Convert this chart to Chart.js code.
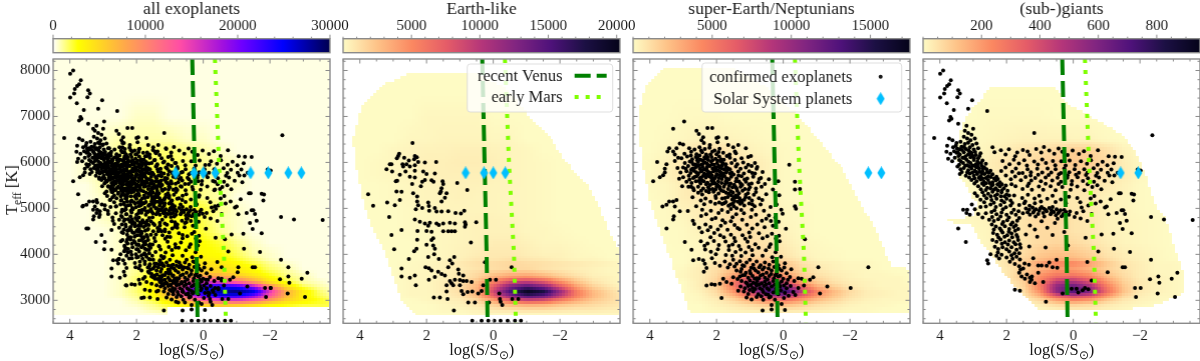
<!DOCTYPE html>
<html>
<head>
<meta charset="utf-8">
<title>Exoplanet population by stellar flux and temperature</title>
<script src="https://cdn.jsdelivr.net/npm/chart.js@4"></script>
<style>
    html, body { margin: 0; padding: 0; background: #fff; }
    #page { position: relative; width: 1200px; height: 361px; overflow: hidden; font-family: "Liberation Serif", serif; color: #1a1a1a; filter: blur(0.35px); }
    canvas { position: absolute; }
    .axisLabel { position: absolute; font-size: 16.5px; white-space: nowrap; line-height: 18px; }
    .axisLabel sub { font-size: 70%; line-height: 0; }
</style>
</head>
<body>
<div id="page"></div>
<script>
// axes
const xTicks = [4, 2, 0, -2];
const yTicks = [3000, 4000, 5000, 6000, 7000, 8000];
const xRange = [-3.8, 4.5];
const yRange = [2500, 8250];

// climate limits, logS against Teff
const limitTeff = [8250, 6000, 4000, 2500];
const venusLogS = [0.33, 0.26, 0.20, 0.17];
const marsLogS = [-0.35, -0.47, -0.62, -0.68];

// solar system, logS
const planetTeff = 5772;
const innerPlanets = [0.83, 0.28, 0, -0.36];
const giantPlanets = [-1.42, -1.95];
const icePlanets = [-2.55, -2.94];

// colour bars
const titles = ["all exoplanets", "Earth-like", "super-Earth/Neptunians", "(sub-)giants"];
const barMax = [30000, 20240, 17500, 948];
const barTicks = [[0, 10000, 20000, 30000], [5000, 10000, 15000, 20000], [5000, 10000, 15000], [200, 400, 600, 800]];
const barMinor = [2000, 1000, 1000, 50];

// density grids: percent of colour bar, one row per Teff, short rows carry on with their last value
const gridLogS = [4.5, 4, 3.5, 3, 2.5, 2, 1.5, 1, 0.5, 0, -0.5, -1, -1.5, -2, -2.5, -3, -3.5, -3.8];
const gridTeff = [8200, 7500, 7000, 6500, 6250, 6000, 5750, 5500, 5250, 5000, 4750, 4500, 4250, 4000, 3900, 3800, 3700, 3600, 3500, 3400, 3300, 3200, 3100, 3000, 2900, 2800, 2700];

const allGrid = [
[1],[1],[1,1,1,1,1,2,2,1],[1,1,1,2,3,3,3,3,2,2,1],[1,1,1,2,4,5,5,5,4,3,2,1],[1,1,2,3,5,6,6,6,5,4,3,2,1],[1,1,2,3,5,7,7,7,6,4,3,2,1],
[1,1,1,3,5,6,7,7,6,4,3,2,1],[1,1,1,2,4,6,7,7,6,4,3,1],[1,1,1,2,3,5,7,8,8,7,4,2,1],[1,1,1,2,3,5,7,8,8,6,3,2,1],[1,1,1,1,2,4,6,8,9,7,4,2,1],
[1,1,1,1,2,4,6,8,9,9,7,4,2,1],[1,1,1,1,2,3,6,9,10,10,9,6,3,2,1],[1,1,1,1,2,3,6,9,11,11,10,7,4,2,1],[1,1,1,1,2,4,7,10,13,14,13,10,7,4,2,1],[1,1,1,1,2,4,7,11,14,16,15,12,9,5,3,1],
[1,1,1,1,2,4,8,13,18,20,19,15,11,7,4,2,1],[1,1,1,1,2,5,9,16,26,32,30,24,17,10,5,3,1],[1,1,1,1,2,5,10,20,40,50,48,38,26,14,7,3,2,1],[1,1,1,1,2,5,11,26,55,78,82,78,60,34,15,6,3,2],
[1,1,1,1,2,5,10,26,60,85,92,96,85,52,25,12,5,3],[1,1,1,1,2,4,9,22,45,72,84,82,68,45,24,11,6,4],[1,1,1,1,1,3,7,14,28,40,48,50,42,30,18,12,8,6],[1,1,1,1,1,2,4,8,13,18,21,20,16,11,9,7,7,7],[1,1,1,1,1,1,3,4,6,8,9,9,8,6,5,4,3,2],[1,1,1,1,1,1,1,2,2,3,3,3,3,2,2,2,1]
];
const earthGrid = [
[0],[0],[0,0,0,0,0,1,1,1,1,0],[0,0,0,0,1,1,1.5,1.5,1.5,1,1,0],[0,0,0,1,1.5,2,2,2.5,2.5,2,1.5,1,0],[0,0,0.5,1,1.5,2.5,2.5,3,3,2.5,1.5,1,0.5,0],[0,0,0.5,1,1.5,2,2.5,2.5,2.5,2,1.5,1,0.5,0],
[0,0,0,0.5,1,1.5,2,2,2,1.5,1.5,1,0.5,0],[0,0,0,0.5,1,1.5,1.5,2,1.5,1.5,1,1,0.5,0],[0,0,0,0,0.5,1,1.5,1.5,1.5,1.5,1,1,0.5,0],[0,0,0,0,0.5,1,1.5,1.5,2,2,1.5,1,0.5,0],[0,0,0,0,0.5,0.5,1,1.5,2,2,2,1,1,0.5,0],
[0,0,0,0,0,0.5,1,1.5,2,3,3,2,1,1,0.5,0],[0,0,0,0,0,0.5,1,2,3,4,4,3,2,2,1,0.5,0],[0,0,0,0,0,0.5,1,2,4,4,5,4,3,2,1,1,0],[0,0,0,0,0.5,1,2,4,6,7,8,7,6,5,4,3,2,1],[0,0,0,0,0.5,1,2,3,5,6,7,7,5,4,3,2,1],
[0,0,0,0,1,1,2,4,7,10,13,13,10,7,4,2,1],[0,0,0,0,1,1,2,4,8,16,22,24,19,12,7,3,2,1],[0,0,0,0,1,1,3,5,12,26,42,46,38,24,12,5,2,1],[0,0,0,0,1,1,3,6,15,38,62,74,62,40,20,9,4,2],
[0,0,0,0,1,1,3,6,16,44,76,98,88,58,28,14,7,4],[0,0,0,0,1,1,2,5,14,36,62,80,72,50,28,15,8,5],[0,0,0,0,0,1,2,3,8,20,36,44,40,28,18,11,7,5],[0,0,0,0,0,0,1,2,4,9,14,17,16,12,9,7,5,4],[0,0,0,0,0,0,1,1,2,4,5,6,6,5,4,4,3],[0,0,0,0,0,0,0,0,1,1,1,1,1,1,1,1,1]
];
const superGrid = [
[0],[0],[0,0,0,0.5,0.5,0.5,0],[0,0,0.5,1,2,2,1.5,1,0.5,0],[0,0,1,3,5,6,4,2,1,0.5,0],[0,0.5,2,4,7,8,6,4,2,0.5,0],[0,0.5,2,4,7,8,7,4,2,0.5,0],
[0,0.5,1,3,5,7,7,5,2,0.5,0],[0,0,1,3,4,6,7,5,2,0.5,0],[0,0,0.5,2,3,5,6,5,3,1,0.5,0],[0,0,0.5,1,3,4,6,6,3,1,0.5,0],[0,0,0,0.5,2,3,5,6,4,2,0.5,0],
[0,0,0,0.5,1,3,4,6,5,3,1,0.5,0],[0,0,0,0,1,3,4,7,7,5,2,1,0.5,0],[0,0,0,0,1,3,6,9,9,6,3,1,0.5,0],[0,0,0,0,2,5,9,14,15,12,6,3,2,1,1,0],[0,0,0,0.5,3,6,12,17,17,13,7,4,2,1,1,0],
[0,0,0,1,3,7,16,24,24,18,10,5,3,2,1,1,0],[0,0,0,1,3,8,22,34,36,27,13,7,4,2,1,1,1,0],[0,0,0,0,3,9,28,48,54,40,20,10,5,3,2,1,1,0],[0,0,0,0,3,9,28,55,72,65,35,17,9,4,2,1,1],
[0,0,0,0,2,7,22,45,74,85,50,26,14,7,3,2,1],[0,0,0,0,1,5,14,30,50,55,36,21,12,6,3,2,1],[0,0,0,0,1,3,8,16,26,30,21,13,8,4,2,1],[0,0,0,0,0,2,4,7,11,14,10,6,4,2,1,1,0],[0,0,0,0,0,1,2,3,4,5,4,3,2,1,1,0],[0,0,0,0,0,0,1,1,1,1,1,1,0]
];
const giantGrid = [
[0],[0],[0,0,0,0,0.5,0.5,0.5,0.5,0],[0,0,0,0.5,1,1.5,2,2,2,1.5,1.5,0.5,0],[0,0,0,0.5,2,3,5,6,8,10,9,6,2,0.5,0],[0,0,0,0.5,3,5,6,8,10,11,10,7,3,1,0],[0,0,0,0.5,3,4,5,6,8,9,8,5,3,1,0],
[0,0,0,0.5,1.5,2,4,5,5,5,5,4,2,0.5,0],[0,0,0,0.5,1.5,2,3,4,4,4,4,2,1.5,0.5,0],[0,0,0,0.5,1.5,2,4,5,5,4,4,2,1.5,0.5,0],[0,0,0.5,1,2,3,5,8,8,5,4,2,1.5,1,0.5,0],[0,0,0,0.5,1.5,3,5,7,7,5,4,2,1.5,1,0.5,0],
[0,0,0,0,1.5,3,5,7,8,7,5,3,1.5,1,0.5,0],[0,0,0,0,2,4,7,11,13,12,9,5,3,2,1,0],[0,0,0,0,1,4,8,12,15,14,10,6,3,2,1,0],[0,0,0,0,1,5,10,20,27,26,20,11,5,3,1,1,0],[0,0,0,0,1,4,9,15,20,20,15,9,5,3,1,1,0],
[0,0,0,0,1,4,10,20,26,25,20,11,6,3,1,1,0],[0,0,0,0,1,4,11,24,34,36,28,15,7,3,2,1,0],[0,0,0,0,0,3,9,26,48,52,40,21,9,4,2,1,0],[0,0,0,0,0,2,8,28,60,70,54,28,11,4,2,1,0],
[0,0,0,0,0,1,6,24,60,74,62,32,12,4,2,1,0],[0,0,0,0,0,1,4,16,38,48,40,22,8,3,1,1,0],[0,0,0,0,0,1,2,8,18,24,20,10,4,2,1,0],[0,0,0,0,0,0,1,3,7,9,7,4,2,1,0],[0,0,0,0,0,0,0,1,2,3,3,2,1,0],[0]
];

// outline of each density region: [Teff, left logS, right logS]
const allOutline = [[8250,4.5,-3.8],[2835,4.5,-3.8],[2830,4.5,1.1],[2690,4.5,1.1]];
const earthOutline = [[7930,2.5,0.5],[7700,3.3,-0.2],[7300,3.9,-0.75],[7000,4.05,-1.05],[6500,4.2,-1.75],[6000,4.15,-2.2],[5500,4.0,-2.85],[5000,3.85,-3.2],[4500,3.6,-3.5],[4100,3.3,-3.8],[3500,3.0,-3.8],[3000,2.75,-3.8],[2690,2.35,-3.8]];
const superOutline = [[8040,3.55,1.5],[7640,4.15,0.5],[7050,4.35,-0.4],[6500,4.3,-1.05],[5870,4.2,-1.75],[5155,4.0,-2.3],[4440,3.65,-2.85],[3730,3.3,-3.25],[3680,3.3,-3.8],[3150,3.0,-3.8],[2750,2.8,-3.8]];
const giantOutline = [[7640,2.45,0.55],[7250,2.95,0.15],[6950,3.25,-0.65],[6590,3.45,-1.45],[6230,3.5,-1.9],[5700,3.4,-2.2],[5100,2.9,-2.45],[4820,3.0,-2.75],[4780,3.75,-2.8],[4700,3.75,-2.8],[4620,3.0,-2.85],[4400,2.9,-2.95],[4050,2.55,-3.1],[3500,2.0,-3.35],[3150,1.55,-3.3],[2900,1.2,-2.6],[2810,1.05,-1.65]];

// confirmed planets [logS, Teff]
const earthPoints = [[2.42,6420],[2.82,6190],[2.85,6140],[2.89,6090],[2.67,6100],[2.35,6140],[2.29,6110],[2.37,6070],[2.53,6040],[2.25,6010],[2.05,6000],[1.71,6010],[3.10,5960],[3.05,5960],[2.72,5960],[2.60,5960],[2.35,5940],[2.70,5910],[2.50,5910],[3.20,5850],[3.03,5800],[2.63,5800],[2.35,5820],[2.10,5800],[2.00,5750],[1.75,5760],[2.80,5730],[2.50,5690],[2.35,5670],[2.92,5590],[2.88,5600],[2.43,5530],[2.13,5580],[2.05,5620],[1.85,5610],[1.79,5580],[1.52,5590],[1.50,5530],[1.08,5550],[2.17,5480],[1.55,5440],[1.57,5370],[2.90,5370],[2.75,5360],[2.40,5330],[0.78,5400],[3.75,5310],[1.6,5330],[1.4,5330],[1.45,5230],[2.8,5180],[2.28,5260],[1.55,5150],[3.18,5130],[2.95,5070],[3.6,5060],[2.28,5150],[2.25,5070],[2.32,4980],[2.13,5010],[1.95,5130],[1.93,5050],[1.92,4950],[1.75,5010],[1.7,4930],[1.55,4930],[1.35,4940],[1.13,4900],[0.87,4950],[0.97,4890],[3.12,4810],[2.35,4760],[2.2,4710],[2.05,4670],[1.9,4690],[1.95,4620],[1.7,4670],[1.63,4640],[1.5,4670],[1.3,4690],[1.15,4670],[0.85,4700],[0.83,4650],[0.51,4700],[0.85,4600],[2.75,4530],[3.05,4420],[2.27,4510],[2,4510],[1.85,4490],[1.5,4500],[1.35,4500],[1.25,4500],[1.15,4500],[1.8,4350],[1.85,4310],[2.28,4320],[2,4210],[1.8,4190],[0.67,4260],[2.3,4120],[2.97,4110],[1.75,4120],[2.37,4070],[2.53,3900],[1.95,3940],[1.77,4000],[1.63,3900],[1.3,3870],[1.17,3940],[1.23,3800],[1.35,3720],[2.75,3690],[2.03,3720],[1.93,3700],[1.85,3650],[1.65,3620],[1.55,3570],[1.45,3540],[2.75,3520],[2.5,3490],[2.35,3540],[1.93,3450],[1.75,3510],[2.32,3330],[1.05,3670],[1.03,3580],[0.9,3540],[1.3,3420],[1.25,3370],[1.4,3330],[1.15,3450],[1,3440],[0.9,3420],[0.8,3420],[0.65,3400],[1,3330],[1.2,3330],[0.95,3200],[0.9,3130],[0.77,3180],[0.63,3190],[0.45,3150],[0.35,3200],[0.3,3330],[0.25,3830],[0.1,3450],[-0.08,3450],[-0.55,3720],[1.78,3060],[1.6,3060],[1.37,3030],[1.4,3190],[0.75,2950],[0.55,2950],[1.18,2780],[0.13,2950],[-0.18,3150],[-0.2,3030],[-0.22,2970],[-0.27,2900],[-0.75,3030],[-0.57,3030],[0.63,2555],[0.35,2555],[0.15,2555],[-0.03,2555],[-0.22,2555],[-0.43,2555],[-0.65,2555],[-0.83,2555]];

const superPoints = [[2.97,6890],[3.3,6730],[2.6,6690],[2.27,6750],[2.13,6750],[2.53,6620],[2.4,6550],[2.45,6480],[2.38,6420],[2.0,6530],[1.95,6550],[1.7,6530],[1.97,6440],[2.2,6380],[1.35,6380],[1.12,6310],[1.5,6330],[1.65,6380],[1.45,6240],[1.05,6120],[0.78,5900],[0.97,6140],[-0.18,5950],
[3.9,5590],[3.78,6010],[3.55,5780],[3.6,5720],[3.7,5680],[3.42,6310],[3.47,6240],[3.55,5860],[3.5,5960],[3.25,6030],[3.1,6410],[3.0,6390],[3.2,6310],[3.3,6240],[3.25,6170],[3.15,6100],[3.62,5040],[3.5,5080],[3.42,5150],[3.3,5150],[3.2,5180],[3.25,5040],[3.28,4830],[3.3,4760],[3.1,4940],[3.5,4560],[2.95,4270],[2.75,4100],[2.7,3870],[2.53,3900],
[2.82,6310],[2.66,6280],[2.51,6330],[2.35,6290],[2.21,6320],[2.06,6260],[1.91,6300],[2.96,6190],[2.76,6230],[2.6,6180],[2.43,6220],[2.31,6170],[2.13,6230],[2.0,6180],[1.8,6210],[1.61,6170],[1.42,6200],[3.05,6090],[2.88,6130],[2.73,6070],[2.62,6120],[2.48,6060],[2.36,6110],[2.25,6050],[2.15,6120],[2.03,6080],[1.92,6130],[1.78,6060],[1.6,6100],[1.45,6050],[1.25,6090],
[2.95,5990],[2.8,6020],[2.7,5960],[2.55,6010],[2.45,5950],[2.35,6000],[2.28,5970],[2.16,6020],[2.07,5950],[1.98,5990],[1.86,6020],[1.72,5960],[1.55,5990],[1.38,5960],[1.2,6000],[1.05,5950],[0.85,5990],[3.0,5890],[2.85,5920],[2.72,5870],[2.6,5910],[2.5,5860],[2.42,5900],[2.3,5870],[2.2,5920],[2.12,5860],[2.02,5890],[1.94,5930],[1.85,5870],[1.72,5900],[1.6,5850],[1.42,5910],[1.28,5860],[1.12,5890],[0.95,5920],[0.8,5860],
[3.08,5780],[2.9,5810],[2.78,5770],[2.68,5820],[2.55,5760],[2.47,5800],[2.37,5760],[2.28,5820],[2.18,5770],[2.09,5810],[2.0,5750],[1.9,5800],[1.8,5760],[1.68,5820],[1.55,5780],[1.35,5800],[1.18,5760],[1.02,5810],[0.85,5760],[0.62,5790],[3.0,5680],[2.83,5710],[2.7,5660],[2.6,5700],[2.5,5650],[2.4,5710],[2.32,5670],[2.22,5700],[2.12,5650],[2.03,5690],[1.93,5660],[1.82,5700],[1.7,5650],[1.56,5690],[1.4,5650],[1.25,5700],[1.08,5650],[0.9,5690],[0.72,5640],
[2.9,5580],[2.75,5550],[2.62,5590],[2.48,5540],[2.38,5590],[2.27,5560],[2.15,5600],[2.05,5540],[1.95,5590],[1.85,5550],[1.72,5590],[1.58,5540],[1.42,5590],[1.28,5540],[1.12,5580],[0.95,5540],[0.75,5570],[0.55,5530],[2.7,5440],[2.55,5470],[2.4,5430],[2.25,5460],[2.12,5420],[2.0,5470],[1.9,5430],[1.78,5470],[1.65,5420],[1.52,5460],[1.4,5430],[1.28,5470],[1.15,5420],[1.0,5460],[0.82,5430],[0.65,5470],[0.15,5590],[-0.35,5580],[-0.5,5420],[-0.35,5410],
[2.51,6153],[2.33,6087],[2.58,6046],[2.18,6172],[1.87,6067],[2.74,6011],[2.41,5968],[2.23,5931],[1.97,6037],[2.64,5884],[2.36,5847],[2.07,5879],[1.83,5936],[2.92,5862],[2.56,5733],[2.27,5742],[2.14,5722],[1.96,5827],[1.66,5873],[1.49,5739],[2.81,5626],[2.44,5612],[2.09,5592],[1.88,5713],[1.63,5632],[1.34,5716],[2.19,5507],[1.97,5516],[1.74,5528],[1.47,5513],[1.16,5627],[0.93,5768],[3.12,5643],[3.17,5877],[2.68,5394],[2.31,5378],[1.86,5391],[1.57,5374],[1.22,5386],[2.03,5271],[1.66,5247],[1.37,5268],[1.13,5242],[1.72,5137],[1.46,5158],[1.24,5126],[1.56,5286],[1.83,5098],[1.4,5004],
[2.55,5342],[2.43,5304],[2.23,5352],[1.94,5322],[1.71,5338],[1.51,5347],[1.43,5283],[1.33,5328],[1.06,5331],[0.88,5297],[0.51,5309],[2.33,5214],[2.02,5228],[1.74,5224],[1.49,5232],[1.31,5218],[0.94,5174],[0.73,5219],[2.61,5047],[2.37,5091],[2.04,5103],[1.77,5113],[1.64,5058],[1.51,5112],[1.29,5103],[1.17,5062],[1.02,5106],[0.86,5048],[0.68,5086],[0.38,5030],[0.2,5082],[-0.38,4990],[-0.35,5044],
[2.71,4733],[2.46,4837],[2.31,4873],[2.03,4792],[1.94,4897],[1.66,4921],[1.52,4806],[1.41,4873],[1.18,4893],[0.97,4812],[0.82,4864],[0.51,4777],[0.43,4846],[0.24,4801],[0.02,4882],[2.33,4651],[2.18,4597],[1.87,4623],[1.74,4688],[1.46,4639],[1.37,4574],[1.09,4646],[0.78,4651],[0.56,4589],[0.31,4624],[-0.08,4558],[-0.65,4330],
[2.44,4482],[2.07,4466],[1.89,4413],[1.57,4426],[1.22,4417],[1.02,4473],[0.73,4458],[0.48,4392],[0.34,4447],[0.13,4407],[2.47,4283],[2.27,4238],[2.08,4291],[1.73,4282],[1.52,4216],[1.44,4283],[1.07,4274],[0.84,4221],[0.38,4222],[0.11,4285],[2.34,4103],[2.17,4058],[1.96,4112],[1.63,4094],[1.43,4052],[1.28,4103],[1.13,4043],[0.94,4094],[0.52,4091],[0.23,4044],
[2.4,3872],[2.35,3793],[2.3,3702],[2.38,3621],[2.05,3813],[1.9,3754],[1.75,3843],[1.6,3782],[1.5,3881],[1.4,3793],[1.3,3852],[1.22,3764],[1.1,3824],[1.0,3883],[0.9,3772],[0.8,3844],[0.68,3763],[0.55,3821],[0.42,3773],[0.3,3842],[0.15,3762],[-0.05,3804],[-1.05,3720],[-2.55,3720],[2.3,3320],[2.15,3350],[2.05,3340],[1.9,3360],[1.8,3470],[1.7,3400],[1.55,3360],[1.5,3500],[1.85,3050],[1.35,3210],
[1.4,3650],[1.25,3680],[1.12,3600],[1.0,3640],[0.88,3690],[0.75,3610],[0.62,3670],[0.5,3600],[0.35,3650],[0.2,3590],[0.05,3650],[-0.1,3590],[1.3,3520],[1.15,3550],[1.05,3490],[0.92,3530],[0.8,3480],[0.68,3540],[0.55,3490],[0.42,3530],[0.28,3480],[0.15,3520],[0,3470],[-0.2,3510],[-0.45,3480],[-0.55,3470],[1.25,3420],[1.12,3390],[1.0,3430],[0.9,3380],[0.78,3420],[0.65,3370],[0.55,3410],[0.42,3370],[0.3,3420],[0.18,3380],[0.05,3410],[-0.1,3370],[-0.33,3420],
[1.28,3300],[1.15,3260],[1.05,3310],[0.92,3270],[0.8,3320],[0.7,3260],[0.58,3310],[0.48,3260],[0.35,3300],[0.22,3250],[0.1,3300],[-0.1,3260],[1.18,3190],[1.05,3140],[0.9,3190],[0.75,3130],[0.6,3180],[0.45,3120],[0.3,3170],[0.15,3130],[-0.05,3160],[-0.3,3180],[1.1,3060],[0.95,3020],[0.8,3070],[0.6,3010],[0.42,3060],[0.25,3010],[-0.02,3050],[0.62,2780],[0.35,2800],[-0.05,2790],[0.35,2900],[0.05,2920],[-1.32,3300],[-1.1,3150],[-2.02,3270],[-0.9,3500],[-0.8,3450],[-0.62,3320],[-0.45,3270]];

// second pass over the crowded parts of the super-Earth panel
const superCrowded = [[2.77,6148],[2.46,6262],[2.27,6118],[1.94,6228],[1.69,6142],[2.57,6098],[2.12,6046],[2.41,6041],[1.81,5983],[2.63,5957],[2.29,5903],[2.53,5939],[2.14,5953],[1.91,5897],[1.77,5848],[2.76,5842],[2.44,5824],[2.23,5788],[2.03,5832],[1.87,5774],[1.71,5781],[2.61,5788],[2.33,5723],[2.17,5677],[1.97,5733],[1.76,5706],[2.66,5683],[2.46,5673],[2.06,5652],[1.84,5641],[1.59,5761],[2.53,5597],[2.31,5527],[2.12,5543],[1.91,5473],[1.68,5561],[2.76,5473],[2.46,5382],[2.21,5412],[2.03,5413],[1.79,5371],[1.62,5492],[2.09,5362],[1.43,5463],[1.23,5511],[1.03,5524],[1.53,5193],[1.42,5241],[1.27,5172],[1.12,5294],[1.64,5318],[1.38,5384],[1.04,5413],[0.82,5356],[1.58,5083],[1.36,5147],[1.17,5186],[1.02,5226],[0.93,5088],[1.48,5047],[1.83,5216],[1.92,5126],[2.18,5146],[2.47,5172],[2.72,5241],[2.84,5471],[3.03,5483],[1.33,5587],[0.67,5662],[0.43,5633],[0.31,5412],[0.63,5183],[0.12,5284],[0.06,4972],[0.58,4946],[0.94,4971],[1.26,4963],[1.57,4987],[1.84,4967],[2.17,4946],[2.43,4973],[2.86,4943],[2.67,4662],[2.52,4581],[2.14,4762],[1.82,4742],[1.57,4722],[1.23,4753],[0.93,4564],[0.64,4731],[0.37,4723],[0.14,4711],[2.26,4523],[1.96,4541],[1.67,4533],[1.31,4547],[0.99,4376],[0.62,4348],[0.22,4346],[2.18,4373],[1.78,4372],[1.47,4358],[1.14,4338],[2.36,4187],[1.93,4204],[1.63,4182],[1.33,4183],[1.03,4162],[0.74,4143],[0.42,4158],[2.02,4003],[1.72,3987],[1.53,3972],[1.26,3963],[0.92,3983],[0.62,3968],[0.33,3937],[0.07,3948],[2.14,3913],[1.66,3714],[1.46,3734],[1.28,3622],[1.17,3746],[0.96,3708],[0.83,3649],[0.72,3722],[0.57,3712],[0.44,3692],[0.27,3723],[0.12,3688],[-0.03,3714],[-0.24,3678],[1.37,3462],[1.22,3548],[0.98,3582],[0.86,3468],[0.73,3482],[0.61,3562],[0.47,3454],[0.36,3574],[0.24,3547],[0.09,3533],[-0.14,3447],[1.08,3362],[0.97,3332],[0.83,3368],[0.72,3343],[0.63,3232],[0.52,3344],[0.43,3229],[0.26,3338],[0.12,3354],[-0.02,3322],[-0.22,3313],[1.01,3224],[0.84,3246],[0.66,3088],[0.52,3134],[0.38,3078],[0.23,3186],[0.08,3218],[-0.16,3098],[-0.36,3117]];

const giantPoints = [[3.9,8000],[3.99,7930],[3.67,7790],[3.72,7700],[3.78,7660],[3.85,7600],[3.87,7500],[3.99,7410],[3.45,7570],[3.4,7500],[3.47,7420],[3.03,7350],[3.79,7290],[3.15,7170],[2.58,7120],[3.58,7140],[3.68,6990],[3.72,6910],[3.65,6950],[3.45,6840],[3.0,6730],[3.2,6800],[4.17,6530],[1.17,6640],[-2.37,6590],
[3.25,6690],[3.15,6640],[3.05,6600],[3.28,6560],[3.18,6520],[3.08,6480],[2.95,6520],[3.72,6520],[3.62,6480],[3.5,6420],[3.38,6450],[3.25,6400],[3.15,6430],[3.02,6380],[2.9,6410],[3.78,6360],[3.6,6330],[3.48,6300],[3.35,6340],[3.22,6290],[3.1,6330],[2.98,6280],[2.85,6310],[3.8,6230],[3.68,6190],[3.5,6210],[3.4,6170],[3.28,6220],[3.15,6170],[3.05,6210],[2.92,6160],[2.78,6200],[3.75,6080],[3.55,6100],[3.42,6050],[3.32,6100],[3.2,6060],[3.08,6110],[2.98,6050],[2.85,6090],[2.72,6040],[3.42,5950],[3.3,5990],[3.18,5940],[3.08,5990],[2.95,5930],[2.85,5980],[2.75,5930],[2.62,5970],[3.38,5850],[3.28,5880],[3.15,5830],[3.05,5870],[2.95,5820],[2.82,5860],[2.72,5810],[2.6,5850],[2.48,5820],[3.4,5750],[3.22,5710],[3.1,5760],[2.98,5710],[2.88,5750],[2.78,5700],[2.66,5750],[2.55,5700],[2.42,5740],[2.3,5690],[3.05,5620],[2.9,5590],[2.78,5630],[2.68,5580],[2.55,5620],[2.42,5570],[2.32,5610],[2.2,5570],[2.85,5480],[2.68,5510],[2.58,5450],[2.45,5490],[2.32,5440],[2.2,5480],[2.08,5440],[2.95,5330],[2.72,5350],[2.55,5320],[2.42,5360],[2.28,5310],[2.15,5350],[2.0,5300],[2.78,5190],[2.6,5220],[2.45,5180],[2.3,5210],[2.15,5170],[2.0,5210],[1.88,5170],
[3.33,6271],[3.12,6243],[3.44,6137],[3.26,6094],[3.02,6143],[2.87,6022],[3.12,5916],[2.91,5897],[2.67,5893],[3.34,5794],[3.02,5783],[2.81,5798],[2.52,5774],[2.96,5657],[2.62,5663],[2.37,5652],[2.73,5541],[2.51,5553],[2.27,5527],[2.62,5398],[2.37,5413],[2.14,5392],[2.34,5273],[2.06,5264],
[2.62,5040],[2.48,5082],[2.32,5031],[2.18,5073],[2.02,5024],[1.88,5063],[3.18,4970],[3.3,4970],[3.1,4860],[3.2,4900],[2.95,4980],[2.85,4880],[2.62,4893],[2.45,4921],[2.3,4874],[2.15,4912],[2.0,4863],[1.85,4904],[1.72,4861],[3.45,4560],[2.52,4752],[2.38,4723],[2.25,4764],[2.1,4703],[1.98,4741],[1.82,4692],[1.68,4733],[2.32,4604],[2.2,4562],[2.05,4613],[1.92,4551],[1.78,4594],[1.65,4553],[3.22,4270],[2.4,4462],[2.28,4424],[2.12,4473],[1.98,4414],[1.85,4452],[1.7,4423],[2.42,4312],[2.3,4274],[2.18,4323],[2.05,4262],[1.92,4303],[1.78,4264],[1.65,4314],[2.35,4163],[2.25,4114],[2.12,4152],[2.0,4113],[1.85,4154],[1.7,4102],[1.58,4143],[2.58,3870],[2.48,4000],[2.3,3970],[2.15,3990],[2.0,3930],[1.85,3980],[1.7,3950],[1.6,3890],[2.55,3800],[1.9,3840],[1.75,3790],[1.62,3740],[1.5,3690],[1.62,3600],[1.55,3520],[1.45,3470],[1.3,3400],[1.15,3370],
[2.42,6332],[2.36,6224],[2.17,6263],[2.03,6174],[1.93,6287],[1.74,6132],[1.68,6214],[1.51,6268],[1.37,6236],[1.31,6163],[1.11,6291],[0.96,6217],[0.88,6334],[0.72,6258],[0.57,6187],[0.44,6304],[0.33,6232],[0.17,6164],[0.02,6257],[-0.17,6183],[-0.32,6241],[-0.52,6142],[-0.74,6263],[-1.06,6132],[-1.25,6124],[-1.45,6118],[2.12,6031],[1.91,5962],[1.78,6057],[1.63,5974],[1.47,6048],[1.39,5931],[1.17,6022],[1.06,5953],[0.93,6062],[0.82,5987],[0.61,6031],[0.54,5941],[0.36,6026],[0.23,5933],[0.11,6043],[-0.06,5946],[-0.23,6026],[-0.41,5972],[-0.53,6048],[-0.73,5952],[-0.88,6014],[-1.02,5938],[-1.21,5983],
[2.16,5812],[2.03,5888],[1.83,5796],[1.72,5867],[1.52,5772],[1.37,5854],[1.27,5788],[1.08,5863],[0.93,5781],[0.77,5869],[0.66,5783],[0.53,5853],[0.37,5772],[0.27,5866],[0.12,5784],[-0.04,5853],[-0.17,5778],[-0.33,5852],[-0.42,5774],[-0.61,5871],[-0.72,5768],[-0.83,5842],[-1.03,5777],[-1.14,5846],[-1.33,5773],[-1.93,5847],[-2.02,5822],[1.87,5634],[1.74,5692],[1.57,5612],[1.43,5684],[1.26,5604],[1.14,5663],[0.97,5592],[0.83,5674],[0.63,5607],[0.47,5664],[0.37,5582],[0.18,5667],[0.04,5596],[-0.13,5676],[-0.29,5594],[-0.44,5653],[-0.62,5582],[-0.77,5674],[-0.94,5603],
[1.73,5483],[1.52,5424],[1.37,5486],[1.24,5403],[1.03,5476],[0.9,5407],[0.68,5484],[0.53,5397],[0.33,5463],[0.08,5403],[-0.12,5474],[-0.33,5396],[-0.57,5463],[-0.84,5414],[-1.37,5328],[-1.75,5320],[-1.82,5300],[-1.42,5332],[1.77,5278],[1.53,5226],[1.36,5294],[1.16,5213],[1.02,5274],[0.78,5208],[0.62,5273],[0.37,5196],[0.13,5254],[-0.12,5226],[-0.52,5214],[-0.63,5272],[-1.12,5197],[-1.8,5170],[1.62,5072],[1.47,5114],[1.31,5057],[1.15,5113],[-0.45,5062],[-0.67,5106],[-0.95,5022],[-1.0,5040],[-1.45,4960],[-1.55,4880],[-0.25,5020],
[1.42,5000],[1.32,4970],[1.22,5020],[1.12,4980],[1.02,4950],[0.95,5030],[0.88,4990],[0.8,4940],[0.72,5010],[0.65,4960],[0.58,4920],[0.5,4980],[0.45,4900],[0.38,4960],[0.3,4880],[0.22,4920],[0.9,4900],[1.05,4880],[0.68,4870],[0.52,4850],[0.35,4830],[1.2,4910],[1.3,4860],[0.1,4930],[-0.1,4900],[-0.3,4940],[-0.55,4880],[-1.05,4870],[-1.3,4900],[-1.5,4960],[-2.33,4810],[-2.72,4760],[-3.58,4750],[-0.22,4780],[0.55,4680],[0.78,4580],[-1.4,4680],[-1.48,4550],[-1.75,4460],[-1.2,4450],[1.3,4630],[1.15,4540],[0.95,4720],[-0.85,4430],[-1.6,4730],
[-1.22,4120],[-0.75,4060],[-1.7,4050],[0.5,3880],[-2.33,3880],[1.05,3760],[0.95,3760],[0.8,3750],[0.62,3720],[0.48,3710],[-1.48,3720],[-1.55,3720],[1.3,3490],[1.05,3600],[0.9,3400],[1.25,3450],[-0.55,3430],[-2.3,3460],[-2.55,3520],[-2.95,3470],[-3.12,3600],[-2.58,3380],[-2.53,3150],[-1.85,3270],[-2.02,3270],[-1.88,3070],[-3.05,3070],[0.32,3150],[0.82,2970],[0.05,3250],[-0.1,3250],[-0.28,3220],[-0.35,3270],[-0.45,3240],[-0.15,3170],[1.6,3210],[1.75,3230]];

// second pass over the crowded parts of the giant panel
const giantCrowded = [[3.52,6363],[3.41,6284],[3.27,6333],[3.14,6267],[2.94,6227],[3.57,6243],[3.46,6222],[3.23,6136],[3.11,6176],[2.97,6096],[2.81,6142],[3.63,6027],[3.37,6022],[3.14,6012],[2.92,5962],[2.76,5987],[3.47,5913],[3.24,5926],[3.02,5934],[2.87,5916],[2.71,5872],[3.18,5782],[2.91,5792],[2.74,5753],[2.58,5792],[3.12,5672],[2.83,5667],[2.72,5652],[2.47,5682],[2.26,5637],[2.96,5543],[2.62,5547],[2.41,5512],[2.14,5527],[2.02,5496],[2.77,5417],[2.48,5432],[2.26,5387],[1.97,5383],[2.88,5272],[2.67,5283],[2.47,5266],[2.17,5262],[1.92,5283],[2.67,5131],[2.38,5124],[2.07,5136],[1.83,5116],[3.04,5082],[2.78,5028],[2.36,4958],[2.11,4983],[1.78,4973],[1.64,4938],[2.72,4802],[2.43,4812],[2.18,4823],[1.93,4803],[1.62,4793],[2.44,4648],[2.13,4662],[1.87,4647],[1.72,4632],[2.38,4541],[2.16,4517],[1.93,4493],[1.74,4512],[2.24,4367],[2.06,4381],[1.83,4372],[1.67,4378],[2.14,4231],[1.96,4214],[1.73,4222],[1.6,4222],[2.26,4043],[1.92,4062],[1.76,4024],[1.62,4023],[2.22,3912],[1.82,3902],[1.46,3803],[1.58,3672],[1.39,3563],[1.24,3516],[2.02,5713],[1.63,5762],[1.28,5717],[1.05,5734],[0.74,5728],[0.43,5741],[0.17,5723],[-0.08,5734],[-0.38,5726],[-0.68,5712],[-1.08,5716],[-1.23,5718],[1.85,5523],[1.33,5544],[0.83,5536],[0.44,5528],[0.05,5521],[-0.43,5527],[-0.72,5506],[-1.17,5567],[1.44,5151],[0.97,5152],[0.53,5137],[0.22,5114],[-0.21,5131],[-0.82,5148],[1.17,4947],[0.99,4997],[0.83,4963],[0.66,4897],[0.42,4927],[0.62,5028],[0.27,4964],[0.13,4863],[1.37,4917],[1.51,4893],[1.13,4822],[0.87,4823],[0.47,4773],[-0.04,4812],[-0.42,4724],[1.42,4433],[1.08,4382],[0.62,4422],[0.27,4488],[-0.37,4362],[1.32,4172],[0.83,4147],[0.16,4193],[1.2,3916],[1.33,3772],[0.72,3824],[-0.42,3836],[-1.03,3612]];

// colours
const magmaStops = ["#fefbc4", "#fec287", "#fb8861", "#e55c68", "#b5367a", "#812581", "#4f127b", "#1c1044", "#05041a"];
const magmaAt = [0, 0.125, 0.25, 0.375, 0.5, 0.625, 0.75, 0.875, 1];
const gnuplotStops = ["#ffffff", "#ffff00", "#ffa64d", "#ff4da6", "#a010e0", "#7000ff", "#0000ff", "#000050"];
const gnuplotAt = [0, 0.09, 0.265, 0.46, 0.615, 0.68, 0.83, 1];

const INK = "#1a1a1a";
const SPINE = "#8a8a8a";
const FONT = '"Liberation Serif", serif';

Chart.defaults.font.family = FONT;
Chart.defaults.color = INK;

function hexRgb(h) {
    return [parseInt(h.slice(1, 3), 16), parseInt(h.slice(3, 5), 16), parseInt(h.slice(5, 7), 16)];
}

function colorFor(frac, stops, at) {
    var i = 1;
    while (i < at.length - 1 && frac > at[i]) i++;
    var t = Math.min(1, Math.max(0, (frac - at[i - 1]) / (at[i] - at[i - 1])));
    var a = hexRgb(stops[i - 1]), b = hexRgb(stops[i]);
    return "rgb(" + a.map((v, k) => Math.round(v + (b[k] - v) * t)).join(",") + ")";
}

function cellAt(grid, r, c) {
    var row = grid[r];
    return c < row.length ? row[c] : row[row.length - 1];
}

// position between two neighbours in a descending list
function bracket(list, v) {
    var i = 0;
    while (i < list.length - 2 && v < list[i + 1]) i++;
    var t = (list[i] - v) / (list[i] - list[i + 1]);
    return [i, Math.min(1, Math.max(0, t))];
}

function gridValue(grid, logS, teff) {
    var [r, tr] = bracket(gridTeff, teff);
    var [c, tc] = bracket(gridLogS, logS);
    var top = cellAt(grid, r, c) * (1 - tc) + cellAt(grid, r, c + 1) * tc;
    var low = cellAt(grid, r + 1, c) * (1 - tc) + cellAt(grid, r + 1, c + 1) * tc;
    return top * (1 - tr) + low * tr;
}

function insideOutline(outline, logS, teff) {
    if (teff > outline[0][0] || teff < outline[outline.length - 1][0]) return false;
    var i = 0;
    while (i < outline.length - 2 && teff < outline[i + 1][0]) i++;
    var a = outline[i], b = outline[i + 1];
    var t = (a[0] - teff) / (a[0] - b[0]);
    return logS <= a[1] + (b[1] - a[1]) * t && logS >= a[2] + (b[2] - a[2]) * t;
}

// density cells go under the datasets
const heatPlugin = {
    id: "heat",
    beforeDatasetsDraw(chart, args, opts) {
        var ctx = chart.ctx, xs = chart.scales.x, ys = chart.scales.y;
        ctx.save();
        for (var teff = yRange[1]; teff > yRange[0]; teff -= 62) {
            var y0 = Math.round(ys.getPixelForValue(teff));
            var y1 = Math.round(ys.getPixelForValue(teff - 62));
            for (var logS = xRange[1]; logS > xRange[0]; logS -= 0.09) {
                var midS = logS - 0.045, midT = teff - 31;
                if (!insideOutline(opts.outline, midS, midT)) continue;
                var x0 = Math.round(xs.getPixelForValue(logS));
                var x1 = Math.round(xs.getPixelForValue(logS - 0.09));
                ctx.fillStyle = colorFor(gridValue(opts.grid, midS, midT) / 100, opts.stops, opts.at);
                ctx.fillRect(x0, y0, x1 - x0, y1 - y0);
            }
        }
        ctx.restore();
    }
};

function diamondImage() {
    var c = document.createElement("canvas");
    c.width = 9; c.height = 13;
    var g = c.getContext("2d");
    g.fillStyle = "#00bfff";
    g.beginPath();
    g.moveTo(4.5, 0); g.lineTo(8.5, 6.5); g.lineTo(4.5, 13); g.lineTo(0.5, 6.5);
    g.closePath(); g.fill();
    return c;
}
const diamond = diamondImage();

// rounded white box, drawn after the datasets so the lines fade behind it
const legendPlugin = {
    id: "panelLegend",
    afterDatasetsDraw(chart, args, opts) {
        if (!opts.box) return;
        var ctx = chart.ctx, b = opts.box;
        ctx.save();
        ctx.beginPath();
        ctx.roundRect(b.x, b.y, b.w, b.h, 3);
        ctx.fillStyle = "rgba(255,255,255,0.8)";
        ctx.fill();
        ctx.strokeStyle = "rgba(215,215,215,0.8)";
        ctx.lineWidth = 1;
        ctx.stroke();
        ctx.font = "16.5px " + FONT;
        ctx.fillStyle = INK;
        ctx.textAlign = "right";
        ctx.textBaseline = "alphabetic";
        opts.rows.forEach(r => {
            ctx.fillText(r.text, b.textRight, r.y + 5);
            if (r.line) {
                ctx.beginPath();
                ctx.setLineDash(r.dash);
                ctx.lineWidth = 4;
                ctx.strokeStyle = r.line;
                ctx.moveTo(b.swatch, r.y);
                ctx.lineTo(b.swatch + 32, r.y);
                ctx.stroke();
                ctx.setLineDash([]);
            } else if (r.dot) {
                ctx.beginPath();
                ctx.arc(b.swatch + 29, r.y, 2, 0, Math.PI * 2);
                ctx.fill();
            } else {
                ctx.drawImage(diamond, b.swatch + 24.5, r.y - 6.5);
            }
        });
        ctx.restore();
    }
};

// spines and inward ticks on all four sides
const framePlugin = {
    id: "frame",
    afterDraw(chart) {
        var ctx = chart.ctx, a = chart.chartArea, xs = chart.scales.x, ys = chart.scales.y;
        ctx.save();
        ctx.strokeStyle = SPINE;
        ctx.lineWidth = 1;
        ctx.beginPath();
        for (var v = -3.5; v <= 4.5; v += 0.5) {
            var px = xs.getPixelForValue(v), len = xTicks.includes(v) ? 4.5 : 2.5;
            ctx.moveTo(px, a.bottom); ctx.lineTo(px, a.bottom - len);
            ctx.moveTo(px, a.top); ctx.lineTo(px, a.top + len);
        }
        for (var t = 2600; t <= 8200; t += 200) {
            var py = ys.getPixelForValue(t), ylen = yTicks.includes(t) ? 4.5 : 2.5;
            ctx.moveTo(a.left, py); ctx.lineTo(a.left + ylen, py);
            ctx.moveTo(a.right, py); ctx.lineTo(a.right - ylen, py);
        }
        ctx.stroke();
        ctx.lineWidth = 1.4;
        ctx.strokeRect(a.left, a.top, a.right - a.left, a.bottom - a.top);
        ctx.restore();
    }
};

const barTickPlugin = {
    id: "barTicks",
    afterDraw(chart, args, opts) {
        var ctx = chart.ctx, a = chart.chartArea, xs = chart.scales.x;
        ctx.save();
        ctx.strokeStyle = SPINE;
        ctx.lineWidth = 1;
        ctx.beginPath();
        for (var v = 0; v <= xs.max; v += opts.minor) {
            var px = xs.getPixelForValue(v), len = opts.major.includes(v) ? 4 : 2;
            ctx.moveTo(px, a.top); ctx.lineTo(px, a.top - len);
        }
        ctx.stroke();
        ctx.lineWidth = 1.4;
        ctx.strokeRect(a.left, a.top, a.right - a.left, a.bottom - a.top);
        ctx.restore();
    }
};

function addCanvas(left, top, w, h) {
    var c = document.createElement("canvas");
    c.width = w; c.height = h;
    c.style.left = left + "px";
    c.style.top = top + "px";
    c.style.width = w + "px";
    c.style.height = h + "px";
    document.getElementById("page").appendChild(c);
    return c;
}

function addLabel(html, centerX, centerY, rotate) {
    var d = document.createElement("div");
    d.className = "axisLabel";
    d.innerHTML = html;
    d.style.left = centerX + "px";
    d.style.top = centerY + "px";
    d.style.transform = "translate(-50%,-50%)" + (rotate ? " rotate(-90deg)" : "");
    document.getElementById("page").appendChild(d);
}

function toLine(xs, ys) {
    return xs.map((x, i) => ({ x: x, y: ys[i] }));
}

function drawBar(i, plotLeft, plotWidth) {
    var pad = 26;
    var stops = i == 0 ? gnuplotStops : magmaStops;
    var at = i == 0 ? gnuplotAt : magmaAt;
    var canvas = addCanvas(plotLeft - pad, 0, plotWidth + pad * 2, 54);
    new Chart(canvas, {
        type: "bar",
        data: {
            labels: [titles[i]],
            datasets: [{
                data: [[0, barMax[i]]],
                barPercentage: 1,
                categoryPercentage: 1,
                backgroundColor(ctx) {
                    var a = ctx.chart.chartArea;
                    if (!a) return stops[0];
                    var g = ctx.chart.ctx.createLinearGradient(a.left, 0, a.right, 0);
                    stops.forEach((s, k) => g.addColorStop(at[k], s));
                    return g;
                }
            }]
        },
        options: {
            indexAxis: "y",
            responsive: false,
            animation: false,
            devicePixelRatio: 1,
            layout: { padding: { left: pad, right: pad, top: 0, bottom: 1.3 } },
            plugins: {
                legend: { display: false },
                tooltip: { enabled: false },
                barTicks: { minor: barMinor[i], major: barTicks[i] }
            },
            scales: {
                x: {
                    position: "top",
                    min: 0,
                    max: barMax[i],
                    grid: { display: false, drawTicks: false },
                    border: { display: false },
                    title: { display: true, text: titles[i], font: { size: 17.5 }, padding: { top: -1, bottom: 0 } },
                    afterBuildTicks(scale) { scale.ticks = barTicks[i].map(v => ({ value: v })); },
                    afterFit(scale) { scale.height = 38.7; scale.paddingLeft = 0; scale.paddingRight = 0; },
                    ticks: { font: { size: 15 }, padding: 4, maxRotation: 0, autoSkip: false, callback: v => String(v) }
                },
                y: { display: false }
            }
        },
        plugins: [barTickPlugin]
    });
}

function drawPanel(i, plotLeft, plotWidth, p) {
    var axisW = 52, padRight = 12;
    var canvas = addCanvas(plotLeft - axisW, 54, axisW + plotWidth + padRight, 307);
    var legendOpts = p.legend || {};
    new Chart(canvas, {
        type: "scatter",
        data: {
            datasets: [
                { label: "confirmed exoplanets", data: p.points.map(q => ({ x: q[0], y: q[1] })), backgroundColor: "#000", pointRadius: 2, pointBorderWidth: 0, order: 4 },
                { label: "recent Venus", data: toLine(venusLogS, limitTeff), showLine: true, pointRadius: 0, borderColor: "#008000", borderWidth: 4, borderDash: [16, 6], order: 3 },
                { label: "early Mars", data: toLine(marsLogS, limitTeff), showLine: true, pointRadius: 0, borderColor: "#7fff00", borderWidth: 4, borderDash: [4, 7], order: 2 },
                { label: "Solar System planets", data: p.planets.map(v => ({ x: v, y: planetTeff })), pointStyle: diamond, order: 1 }
            ]
        },
        options: {
            responsive: false,
            animation: false,
            devicePixelRatio: 1,
            layout: { padding: { left: 0, right: padRight, top: 2, bottom: 0 } },
            plugins: {
                legend: { display: false },
                tooltip: { enabled: false },
                heat: { grid: p.grid, outline: p.outline, stops: i == 0 ? gnuplotStops : magmaStops, at: i == 0 ? gnuplotAt : magmaAt },
                panelLegend: legendOpts
            },
            scales: {
                x: {
                    reverse: true,
                    min: xRange[0],
                    max: xRange[1],
                    grid: { display: false, drawTicks: false },
                    border: { display: false },
                    afterBuildTicks(scale) { scale.ticks = xTicks.map(v => ({ value: v })); },
                    afterFit(scale) { scale.height = 37.7; scale.paddingLeft = 0; scale.paddingRight = 0; },
                    ticks: { font: { size: 15 }, padding: 4, maxRotation: 0, autoSkip: false, callback: v => String(v).replace("-", "\u2212") }
                },
                y: {
                    min: yRange[0],
                    max: yRange[1],
                    grid: { display: false, drawTicks: false },
                    border: { display: false },
                    afterBuildTicks(scale) { scale.ticks = yTicks.map(v => ({ value: v })); },
                    afterFit(scale) { scale.width = axisW; scale.paddingTop = 0; scale.paddingBottom = 0; },
                    ticks: { display: i == 0, font: { size: 15 }, padding: 3, autoSkip: false, callback: v => String(v) }
                }
            }
        },
        plugins: [heatPlugin, legendPlugin, framePlugin]
    });
}

const plotLefts = [53.3, 343.3, 633.3, 923.3];
const plotWidth = 276.7;
const superAll = superPoints.concat(superCrowded);
const giantAll = giantPoints.concat(giantCrowded);

const panels = [
    { points: earthPoints.concat(superAll, giantAll), planets: innerPlanets.concat(giantPlanets, icePlanets), grid: allGrid, outline: allOutline },
    {
        points: earthPoints, planets: innerPlanets, grid: earthGrid, outline: earthOutline,
        legend: {
            box: { x: 175.7, y: 10, w: 145, h: 48, textRight: 270.7, swatch: 282.7 },
            rows: [
                { text: "recent Venus", y: 21.7, line: "#008000", dash: [16, 6] },
                { text: "early Mars", y: 43, line: "#7fff00", dash: [4, 7] }
            ]
        }
    },
    {
        points: superAll, planets: icePlanets, grid: superGrid, outline: superOutline,
        legend: {
            box: { x: 120.7, y: 9, w: 199, h: 49, textRight: 270.4, swatch: 269.7 },
            rows: [
                { text: "confirmed exoplanets", y: 22.7, dot: true },
                { text: "Solar System planets", y: 44.7 }
            ]
        }
    },
    { points: giantAll, planets: giantPlanets, grid: giantGrid, outline: giantOutline }
];

panels.forEach((p, i) => {
    drawBar(i, plotLefts[i], plotWidth);
    drawPanel(i, plotLefts[i], plotWidth, p);
    addLabel("log(S/S<sub>\u2299</sub>)", plotLefts[i] + plotWidth / 2, 350);
});
addLabel("T<sub>eff</sub> [K]", 12, 190, true);
</script>
</body>
</html>
